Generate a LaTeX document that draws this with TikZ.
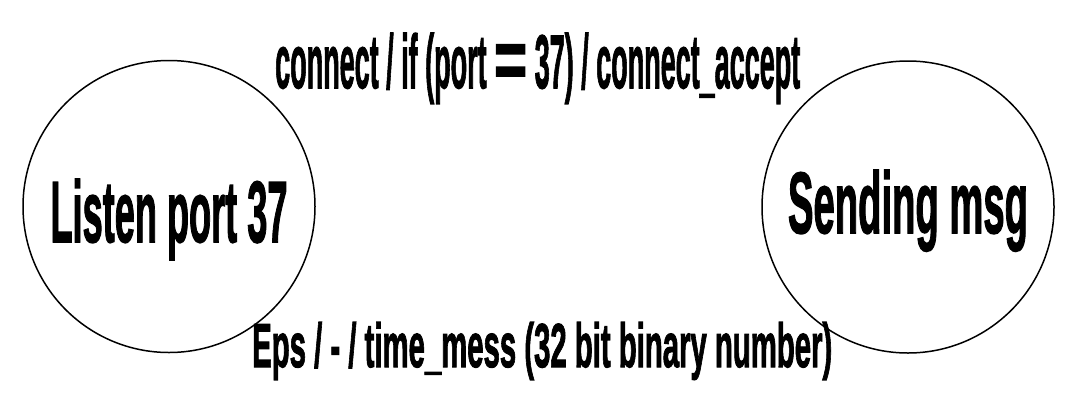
\documentclass[tikz,border=0pt]{standalone}
\usepackage{fontspec}
\setmainfont{Liberation Sans}[BoldFeatures={FakeBold=2}]
\usepackage{graphicx}
\begin{document}
\begin{tikzpicture}[x=1pt,y=-1pt,
  state/.style={circle, draw=black, line width=1.5pt, minimum size=292pt, inner sep=0pt, font=\bfseries},
  lbl/.style={inner sep=0pt, font=\bfseries}]
\useasboundingbox (0,0) rectangle (1091,418);
\node[state, text height=71pt, text depth=0pt] (listen) at (169,206.5) {\resizebox{237pt}{63pt}{Listen port 37}};
\node[state, text height=52pt, text depth=0pt] (sending) at (908,207) {\resizebox{240pt}{63pt}{Sending msg}};
\node[lbl, anchor=base west] (connect) at (275,88) {\resizebox{525pt}{55pt}{connect / if (port \scalebox{2.1}[1.1]{=} 37) / connect\_accept}};
\node[lbl, anchor=base west] (eps) at (252,367) {\resizebox{580pt}{45pt}{Eps / - / time\_mess (32 bit binary number)}};
\end{tikzpicture}
\end{document}
